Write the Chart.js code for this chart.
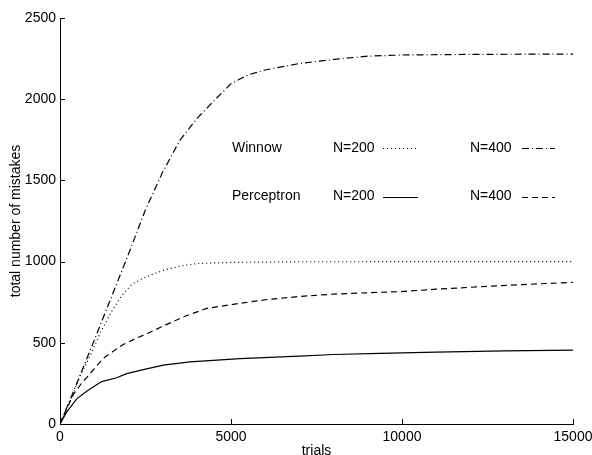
<!DOCTYPE html>
<html>
<head>
<meta charset="utf-8">
<script src="https://cdn.jsdelivr.net/npm/chart.js@4/dist/chart.umd.min.js"></script>
<style>
  html, body { margin: 0; padding: 0; background: #fff; }
  #wrap { width: 592px; height: 455px; }
</style>
</head>
<body>
<div id="wrap"><canvas id="c" width="592" height="455"></canvas></div>
<script>
// ---- data ----
const xTicks = [0, 5000, 10000, 15000];
const yTicks = [0, 500, 1000, 1500, 2000, 2500];

const winnow200X = [0, 300, 600, 900, 1200, 1500, 1800, 2100, 2500, 3000, 3500, 4000, 5000, 7000, 15000];
const winnow200Y = [0, 150, 300, 430, 570, 690, 790, 860, 905, 945, 972, 988, 995, 999, 1000];

const winnow400X = [0, 500, 1000, 1500, 2000, 2500, 3000, 3500, 4000, 4500, 5000, 5500, 6000, 7000, 8000, 9000, 10000, 12000, 15000];
const winnow400Y = [0, 255, 515, 780, 1045, 1320, 1550, 1745, 1880, 1990, 2095, 2150, 2180, 2220, 2245, 2265, 2272, 2276, 2278];

const perc200X = [0, 200, 488, 800, 1218, 1657, 1949, 2500, 3021, 3801, 5263, 7000, 8000, 9357, 11000, 13000, 15000];
const perc200Y = [0, 75, 155, 205, 261, 285, 310, 338, 362, 383, 402, 418, 428, 435, 442, 450, 455];

const perc400X = [0, 200, 400, 634, 800, 1000, 1266, 1500, 1851, 2200, 2600, 3021, 3606, 4288, 5263, 6000, 7000, 8000, 9357, 9942, 11000, 12281, 13500, 14912, 15000];
const perc400Y = [0, 95, 185, 252, 290, 340, 405, 440, 490, 525, 562, 603, 660, 712, 743, 765, 785, 800, 811, 815, 830, 845, 858, 872, 873];

const legendRows = ["Winnow", "Perceptron"];
const legendCols = ["N=200", "N=400"];

function pts(xs, ys) { return xs.map((v, i) => ({ x: v, y: ys[i] })); }

const FONT = '"Liberation Sans", Arial, sans-serif';
Chart.defaults.font.family = FONT;
Chart.defaults.font.size = 14;
Chart.defaults.color = '#000';

function ds(label, xs, ys, dash) {
  return {
    label, data: pts(xs, ys), borderColor: '#000', borderWidth: 1.2,
    borderDash: dash, pointRadius: 0, tension: 0, fill: false
  };
}

const datasets = [
  ds('Winnow N=200', winnow200X, winnow200Y, [1, 3]),
  ds('Winnow N=400', winnow400X, winnow400Y, [7, 3, 1, 3]),
  ds('Perceptron N=200', perc200X, perc200Y, []),
  ds('Perceptron N=400', perc400X, perc400Y, [6, 4])
];

const inwardTicks = {
  id: 'inwardTicks',
  afterDraw(chart) {
    const { ctx, scales: { x, y }, chartArea } = chart;
    ctx.save();
    ctx.strokeStyle = '#000';
    ctx.lineWidth = 1;
    ctx.setLineDash([]);
    x.ticks.forEach(t => {
      const px = Math.round(x.getPixelForValue(t.value)) + 0.5;
      ctx.beginPath(); ctx.moveTo(px, chartArea.bottom); ctx.lineTo(px, chartArea.bottom - 5); ctx.stroke();
    });
    y.ticks.forEach(t => {
      const py = Math.round(y.getPixelForValue(t.value)) + 0.5;
      ctx.beginPath(); ctx.moveTo(chartArea.left, py); ctx.lineTo(chartArea.left + 5, py); ctx.stroke();
    });
    ctx.restore();
  }
};

const innerLegend = {
  id: 'innerLegend',
  afterDraw(chart) {
    const { ctx, chartArea } = chart;
    const L = chartArea.left;
    const T = chartArea.top;
    const rowsY = [T + 130, T + 178.5];
    const labelX = L + 172, colTextX = [L + 273, L + 410], colLineX = [[L + 323, L + 358], [L + 462, L + 495]];
    ctx.save();
    ctx.font = '14px ' + FONT;
    ctx.fillStyle = '#000';
    ctx.textBaseline = 'middle';
    ctx.textAlign = 'left';
    legendRows.forEach((r, ri) => {
      ctx.fillText(r, labelX, rowsY[ri]);
      legendCols.forEach((c, ci) => {
        ctx.fillText(c, colTextX[ci], rowsY[ri]);
        const d = chart.data.datasets[ri * 2 + ci];
        ctx.strokeStyle = d.borderColor;
        ctx.lineWidth = d.borderWidth;
        ctx.setLineDash(d.borderDash);
        ctx.beginPath();
        ctx.moveTo(colLineX[ci][0], Math.round(rowsY[ri]) + 0.5);
        ctx.lineTo(colLineX[ci][1], Math.round(rowsY[ri]) + 0.5);
        ctx.stroke();
      });
    });
    ctx.restore();
  }
};

const plain = v => String(v);

new Chart(document.getElementById('c'), {
  type: 'line',
  data: { datasets },
  options: {
    responsive: false,
    devicePixelRatio: 1,
    animation: false,
    layout: { padding: { left: 0, right: 19, top: 18, bottom: 0 } },
    plugins: { legend: { display: false }, tooltip: { enabled: false } },
    scales: {
      x: {
        type: 'linear', min: 0, max: 15000,
        afterBuildTicks: s => { s.ticks = xTicks.map(v => ({ value: v })); },
        afterFit: s => { s.height = 31; s.paddingLeft = 0; s.paddingRight = 0; },
        ticks: { padding: 5, maxRotation: 0, autoSkip: false, color: '#000', font: { size: 14 }, callback: plain },
        grid: { display: false, drawTicks: false },
        border: { display: true, color: '#000', width: 1 },
        title: { display: true, text: 'trials', color: '#000', font: { size: 14, lineHeight: 1 }, padding: { top: 0, bottom: -3 } }
      },
      y: {
        type: 'linear', min: 0, max: 2500,
        afterBuildTicks: s => { s.ticks = yTicks.map(v => ({ value: v })); },
        afterFit: s => { s.width = 60; s.paddingTop = 0; s.paddingBottom = 0; },
        ticks: { padding: 4, autoSkip: false, color: '#000', font: { size: 14 }, callback: plain },
        grid: { display: false, drawTicks: false },
        border: { display: true, color: '#000', width: 1 },
        title: { display: true, text: 'total number of mistakes', color: '#000', font: { size: 14, lineHeight: 1 }, padding: { top: 9, bottom: 0 } }
      }
    }
  },
  plugins: [inwardTicks, innerLegend]
});
</script>
</body>
</html>
